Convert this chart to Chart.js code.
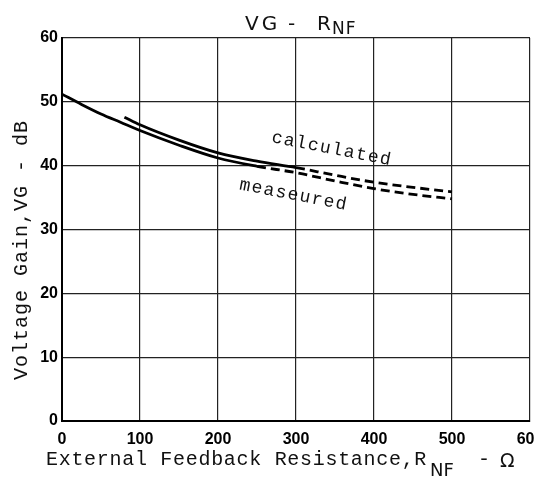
<!DOCTYPE html>
<html>
<head>
<meta charset="utf-8">
<script src="https://cdn.jsdelivr.net/npm/chart.js@4/dist/chart.umd.min.js"></script>
<style>
html,body{margin:0;padding:0;background:#fff;overflow:hidden;width:535px;height:478px;}
#wrap{position:absolute;left:0;top:0;width:560px;height:478px;}
</style>
</head>
<body>
<div id="wrap"><canvas id="c" width="560" height="478"></canvas></div>
<script>
// ---- data ----
const xTicks = [0, 100, 200, 300, 400, 500, 600];
const yTicks = [0, 10, 20, 30, 40, 50, 60];

const calcR  = [80, 100, 150, 200, 250, 300, 350, 400, 450, 500];
const calcVG = [47.6, 46.4, 44.0, 42.0, 40.7, 39.7, 38.5, 37.4, 36.6, 35.9];
const calcDashFrom = 300;

const measR  = [0, 25, 50, 75, 100, 150, 200, 250, 300, 350, 400, 450, 500];
const measVG = [51.2, 49.6, 48.1, 46.8, 45.5, 43.2, 41.2, 39.9, 38.9, 37.6, 36.4, 35.5, 34.8];
const measDashFrom = 250;

const noteText = ["calculated", "measeured"];
const noteR    = [346, 297];
const noteVG   = [42.6, 35.4];

const titleSub  = "NF";
const xTitleMain = "External Feedback Resistance,R";
const xTitleSub  = "NF";
const yTitle = "Voltage Gain,VG - dB";

const toPts = (xs, ys) => xs.map((x, i) => ({x: x, y: ys[i]}));

const textPlugin = {
  id: 'texts',
  afterDraw(chart) {
    const ctx = chart.ctx;
    const xs = chart.scales.x, ys = chart.scales.y;
    ctx.save();
    ctx.fillStyle = '#111';
    ctx.textBaseline = 'alphabetic';
    ctx.textAlign = 'left';
    // title
    ctx.font = '20px "DejaVu Sans"';
    ctx.letterSpacing = '3px';
    ctx.fillText("VG", 245, 30);
    ctx.letterSpacing = '0px';
    ctx.fillText("-", 288, 30);
    ctx.fillText("R", 317, 30);
    ctx.letterSpacing = '1px';
    ctx.font = '17px "DejaVu Sans"';
    ctx.fillText(titleSub, 332, 34);
    // x title
    ctx.font = '20px "Liberation Mono"';
    ctx.letterSpacing = '0.7px';
    ctx.fillText(xTitleMain, 46, 465);
    ctx.font = '18px "DejaVu Sans"';
    ctx.letterSpacing = '0px';
    ctx.fillText(xTitleSub, 430, 476);
    ctx.font = '20px "Liberation Mono"';
    ctx.fillText("-", 478, 465);
    ctx.font = '19px "DejaVu Sans"';
    ctx.fillText("\u03A9", 500, 467);
    // y title
    ctx.save();
    ctx.translate(22, 250);
    ctx.rotate(-Math.PI / 2);
    ctx.textAlign = 'center';
    ctx.textBaseline = 'middle';
    ctx.font = '20px "Liberation Mono"';
    ctx.letterSpacing = '1px';
    ctx.fillText(yTitle, 0, 0);
    ctx.restore();
    // curve notes
    ctx.font = '18px "Liberation Mono"';
    ctx.letterSpacing = '1.4px';
    for (let i = 0; i < noteText.length; i++) {
      ctx.save();
      ctx.translate(xs.getPixelForValue(noteR[i]), ys.getPixelForValue(noteVG[i]));
      ctx.rotate(11 * Math.PI / 180);
      ctx.textAlign = 'center';
      ctx.textBaseline = 'middle';
      ctx.fillText(noteText[i], 0, 0);
      ctx.restore();
    }
    ctx.restore();
  }
};

const dashAfter = (limit) => ({
  borderDash: c => (c.p0.parsed.x >= limit - 0.001 ? [9, 5] : undefined)
});

new Chart(document.getElementById('c'), {
  type: 'line',
  data: {
    datasets: [
      {
        label: 'calculated',
        data: toPts(calcR, calcVG),
        borderColor: '#000',
        borderWidth: 2.8,
        pointRadius: 0,
        cubicInterpolationMode: 'monotone',
        fill: false,
        segment: dashAfter(calcDashFrom)
      },
      {
        label: 'measured',
        data: toPts(measR, measVG),
        borderColor: '#000',
        borderWidth: 2.8,
        pointRadius: 0,
        cubicInterpolationMode: 'monotone',
        fill: false,
        segment: dashAfter(measDashFrom)
      }
    ]
  },
  options: {
    responsive: false,
    animation: false,
    events: [],
    layout: { padding: { left: 0, right: 30, top: 38, bottom: 0 } },
    plugins: { legend: { display: false }, title: { display: false }, tooltip: { enabled: false } },
    scales: {
      x: {
        type: 'linear',
        min: xTicks[0], max: xTicks[xTicks.length - 1],
        afterBuildTicks: s => { s.ticks = xTicks.map(v => ({value: v})); },
        afterFit: s => { s.height = 57; },
        grid: { color: '#222', lineWidth: 1.2, drawTicks: false },
        border: { color: '#000', width: 2 },
        ticks: { color: '#000', padding: 9, font: { family: '"Liberation Sans"', weight: 'bold', size: 16 }, maxRotation: 0 }
      },
      y: {
        type: 'linear',
        min: yTicks[0], max: yTicks[yTicks.length - 1],
        afterBuildTicks: s => { s.ticks = yTicks.map(v => ({value: v})); },
        afterFit: s => { s.width = 62; },
        grid: { color: '#222', lineWidth: 1.2, drawTicks: false },
        border: { color: '#000', width: 2 },
        ticks: { color: '#000', padding: 4, font: { family: '"Liberation Sans"', weight: 'bold', size: 16 } }
      }
    }
  },
  plugins: [textPlugin]
});
</script>
</body>
</html>
